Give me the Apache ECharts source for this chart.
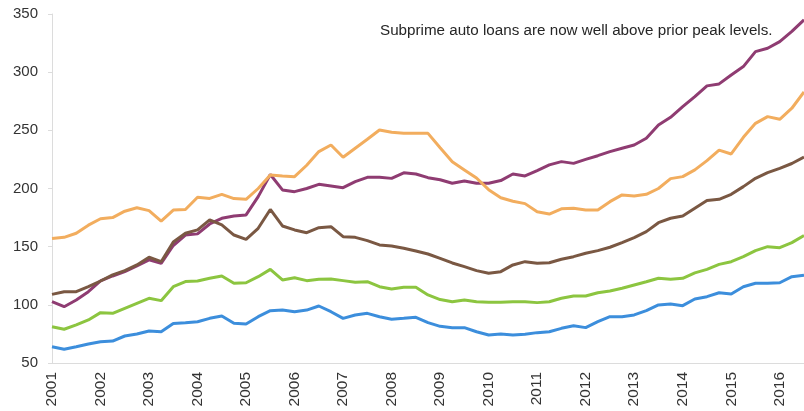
<!DOCTYPE html>
<html>
<head>
<meta charset="utf-8">
<script src="https://cdn.jsdelivr.net/npm/echarts@6/dist/echarts.min.js"></script>
<style>
  html, body { margin: 0; padding: 0; background: #fff; }
  #chart { width: 804px; height: 411px; }
</style>
</head>
<body>
<div id="chart"></div>
<script>
// Quarterly series, 2001 Q1 through 2016 Q3
const years = [2001, 2002, 2003, 2004, 2005, 2006, 2007, 2008, 2009, 2010, 2011, 2012, 2013, 2014, 2015, 2016];
const lastYearQuarters = 3;

const purpleValues = [
  102.7, 98.4, 104.2, 111.3, 120.5, 124.8, 128.5, 133.4, 138.6, 135.7, 151, 160,
  161, 169.5, 174.4, 176.4, 177.3, 193, 212, 198.8, 197.3, 200, 203.6, 202.2,
  200.7, 205.9, 209.6, 209.6, 208.7, 213.5, 212.5, 209.3, 207.5, 204.5, 206.5, 204.5,
  204.5, 206.8, 212.5, 210.8, 215.4, 220.3, 223.1, 221.6, 225, 228.2, 231.7, 234.6,
  237.4, 243.2, 254.6, 261.2, 270.4, 279, 288.2, 289.9, 297.6, 304.8, 317.7, 320.6,
  326.3, 335, 345
];
const orangeValues = [
  157, 158, 161.5, 168.5, 174, 175, 180.5, 183.5, 181, 172, 181.5, 182,
  192.5, 191.5, 195, 191.3, 190.7, 200, 211.6, 210.8, 210.2, 220, 231.7, 237.4,
  226.8, 234.6, 242.3, 250.3, 248.3, 247.4, 247.4, 247.4, 235, 223, 216, 209,
  199, 192, 189, 187, 180, 178, 182.5, 183, 181.6, 181.6, 188.7, 194.5,
  193.6, 195, 200, 208.5, 210.2, 216, 224, 233, 229.7, 244, 256, 261.8,
  259.5, 269, 283
];
const brownValues = [
  109, 111.3, 111.3, 115.6, 120.5, 125.7, 129.4, 134.3, 140.9, 137.1, 154, 161.5,
  164.4, 173, 168.7, 160, 156.3, 165.8, 182, 167.8, 164.4, 162, 166.3, 167.2,
  158.6, 158, 155.2, 151.5, 150.6, 148.6, 146.3, 143.7, 140, 136, 132.8, 129.4,
  127.1, 128.5, 134.3, 137.1, 135.7, 136.2, 139.2, 141.4, 144.3, 146.6, 149.5, 153.5,
  157.7, 162.9, 170.6, 174.4, 176.4, 183, 189.6, 190.7, 195, 201.6, 208.8, 213.6,
  217.3, 221.5, 227
];
const greenValues = [
  81.2, 79, 82.7, 87, 93.3, 92.7, 97, 101.3, 105.6, 103.6, 115.6, 120,
  120.5, 122.8, 124.8, 118.5, 119, 124.2, 130.5, 121.4, 123.3, 120.8, 122, 122.2,
  120.8, 119.4, 119.9, 115.6, 113.6, 115.1, 115.1, 108.5, 104.5, 102.7, 104.2, 102.7,
  102.2, 102.2, 102.7, 102.7, 101.9, 102.7, 105.6, 107.6, 107.6, 110.4, 111.9, 114.2,
  117.1, 119.9, 122.8, 122, 122.8, 127.5, 130.5, 134.8, 137.1, 141.4, 146.6, 150,
  149.1, 153.5, 159.5
];
const blueValues = [
  64, 61.8, 64, 66.3, 68.3, 68.9, 73.2, 74.9, 77.5, 76.9, 84, 84.7,
  85.5, 88.4, 90.4, 84.1, 83.5, 89.8, 95, 95.6, 94.1, 95.5, 99, 94.1,
  88.4, 91.3, 92.7, 89.8, 87.6, 88.4, 89.3, 84.7, 81.5, 80.4, 80.4, 76.9,
  74.1, 74.9, 74.1, 74.7, 76.1, 76.9, 79.8, 82, 80.4, 85.5, 89.8, 89.8,
  91.3, 95, 99.9, 100.7, 99.3, 105, 107, 110.4, 109.3, 115.6, 118.5, 118.5,
  119, 124.2, 125.5
];

const yMin = 50, yMax = 350, yStep = 50;
const note = 'Subprime auto loans are now well above prior peak levels.';

// Quarter categories; only the first quarter of each year gets a label
const quarters = [];
years.forEach((y, i) => {
  const n = i === years.length - 1 ? lastYearQuarters : 4;
  for (let q = 1; q <= n; q++) quarters.push(y + ' Q' + q);
});

const lineSeries = [
  { name: 'Purple', data: purpleValues, color: '#8f3c72' },
  { name: 'Orange', data: orangeValues, color: '#f2ad5e' },
  { name: 'Brown', data: brownValues, color: '#7a5843' },
  { name: 'Green', data: greenValues, color: '#8cc540' },
  { name: 'Blue', data: blueValues, color: '#3c8edc' }
];

const chart = echarts.init(document.getElementById('chart'));
chart.setOption({
  animation: false,
  backgroundColor: '#ffffff',
  grid: { left: 52, top: 14, bottom: 48, width: 756 },
  xAxis: {
    type: 'category',
    data: quarters,
    boundaryGap: false,
    axisLine: { show: true, lineStyle: { color: '#dcdcdc', width: 1 } },
    axisTick: { show: false },
    axisLabel: {
      interval: 3,
      rotate: 90,
      margin: 9,
      color: '#333333',
      fontSize: 15.5,
      fontFamily: 'Liberation Sans, Arial, sans-serif',
      formatter: v => v.split(' ')[0]
    },
    splitLine: { show: false }
  },
  yAxis: {
    type: 'value',
    min: yMin,
    max: yMax,
    interval: yStep,
    axisLine: { show: true, lineStyle: { color: '#dcdcdc', width: 1 } },
    axisTick: { show: true, length: 4, lineStyle: { color: '#dcdcdc' } },
    axisLabel: {
      margin: 14,
      color: '#333333',
      fontSize: 15,
      fontFamily: 'Liberation Sans, Arial, sans-serif'
    },
    splitLine: { show: false }
  },
  graphic: [{
    type: 'text',
    left: 380,
    top: 23,
    style: {
      text: note,
      fill: '#262626',
      font: '15.2px "Liberation Sans", Arial, sans-serif'
    }
  }],
  series: lineSeries.map(s => ({
    name: s.name,
    type: 'line',
    data: s.data,
    symbol: 'none',
    smooth: false,
    lineStyle: { color: s.color, width: 3 },
    itemStyle: { color: s.color }
  }))
});
</script>
</body>
</html>
